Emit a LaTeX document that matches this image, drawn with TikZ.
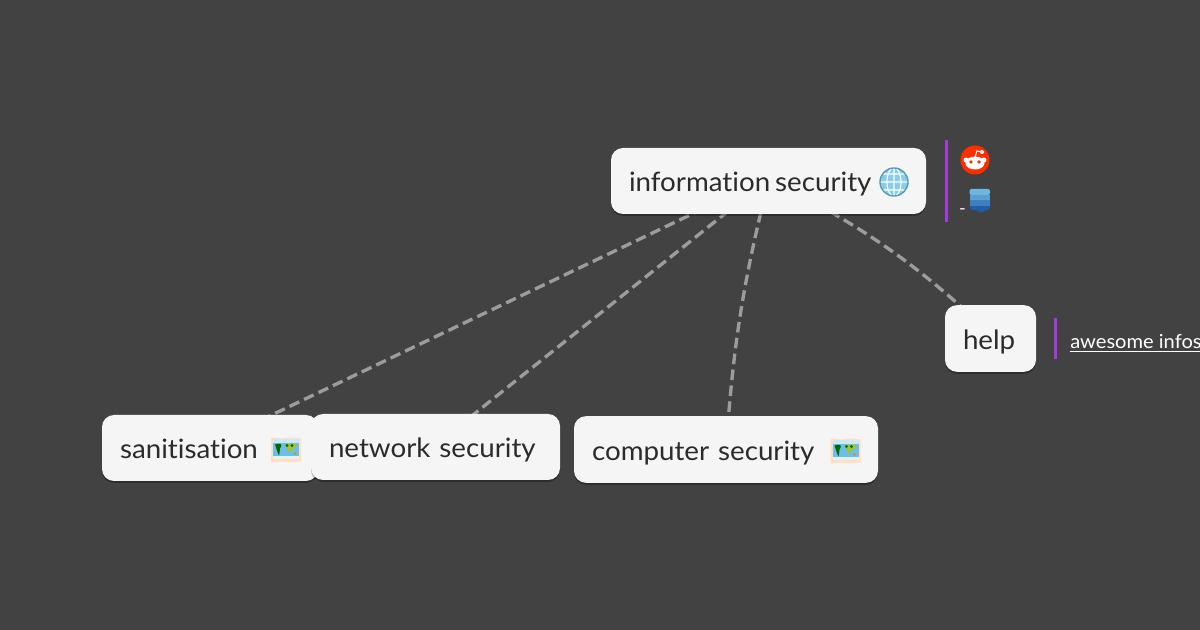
\documentclass[tikz,border=0pt]{standalone}
\usepackage{fontspec}
\setmainfont[FakeStretch=1.04,Ligatures=NoCommon]{Lato}
\usetikzlibrary{backgrounds,shadows}
\definecolor{page_grey}{HTML}{424242}
\definecolor{box_white}{HTML}{F5F5F5}
\definecolor{ink_grey}{HTML}{2B2B2B}
\definecolor{link_grey}{HTML}{9C9C9C}
\definecolor{bar_purple}{HTML}{A638E0}
\definecolor{sea_blue}{HTML}{6CBFE6}
\definecolor{stack_band0}{HTML}{6CB8E0}
\definecolor{stack_band1}{HTML}{5A9FD0}
\definecolor{stack_band2}{HTML}{3F7FC0}
\definecolor{stack_band3}{HTML}{1F5FA8}
\tikzset{
  topic_box/.style={fill=box_white, rounded corners=9pt, text=ink_grey, inner xsep=13.5pt, inner ysep=0pt,
    font=\fontsize{20}{24}\selectfont, text height=18pt, text depth=1.5pt,
    drop shadow={shadow xshift=0pt, shadow yshift=-1.5pt, opacity=0.3, fill=black}},
  link_line/.style={link_grey, line width=2.5pt, dash pattern=on 8pt off 4pt},
  side_bar/.style={bar_purple, line width=2.6pt}
}
% small world map icon, centred on the given point
\newcommand{\drawmapicon}[1]{
  \begin{scope}[shift={(#1)}]
    \fill[white!75!orange] (-15,-12) -- (-5,-11) -- (5,-12) -- (15,-11) -- (15,12) -- (5,13) -- (-5,12) -- (-15,13) -- cycle;
    \fill[sea_blue] (-13,-10) rectangle (13,10);
    \fill[white!65!sea_blue] (-13,-10) rectangle (13,-6);
    \fill[white!80!sea_blue] (-13,7) rectangle (13,10);
    \fill[green!40!black] (-11,-5) .. controls (-5,-7) and (-3,-5) .. (-6,-1) .. controls (-7,2) and (-6,5) .. (-7,6) .. controls (-9,3) and (-9,0) .. (-11,-5);
    \fill[yellow!70!green!85!black] (-1,-5) .. controls (4,-7) and (11,-6) .. (11,-4) .. controls (9,-1) and (6,-1) .. (4,3) .. controls (2,2) and (1,-2) .. (-1,-5);
    \fill[green!45!black] (1,-4) circle (1.6) (6,-4) circle (1.6);
    \fill[orange!80!brown] (9,4) circle (1.4);
  \end{scope}
}
\begin{document}
\begin{tikzpicture}[x=0.75pt, y=-0.75pt]
  \useasboundingbox (0,0) rectangle (1200,630);
  % draw topic boxes
  \node[topic_box, text width=209.25pt, minimum height=49.5pt] (info_security) at (768.5,181) {information\hspace{-3pt} security};
  \node[topic_box, text width=135pt, minimum height=49.5pt] (sanitisation) at (210,448) {sanitisation};
  \node[topic_box, text width=159.75pt, minimum height=49.5pt] (network_security) at (435.5,447) {network security};
  \node[topic_box, text width=201pt, minimum height=50pt] (computer_security) at (726,449.5) {computer security};
  \node[topic_box, text width=41.25pt, minimum height=50pt] (help) at (990.5,338.5) {help};
  % draw dashed links behind the boxes
  \begin{scope}[on background layer]
    \fill[page_grey] (0,0) rectangle (1200,630);
    \draw[link_line] ([xshift=-5.5pt]info_security.center) -- ([xshift=-5.5pt]sanitisation.center);
    \draw[link_line] ([xshift=-2pt]info_security.center) -- ([xshift=-2pt]network_security.center);
    \draw[link_line] (info_security.center) to[bend right=5] (computer_security.center);
    \draw[link_line] ([xshift=4pt]info_security.center) to[bend left=8] ([xshift=4pt]help.center);
  \end{scope}
  % draw purple bars for side notes
  \coordinate (info_bar_top) at (946.5,140);
  \coordinate (info_bar_bottom) at (946.5,222);
  \draw[side_bar] (info_bar_top) -- (info_bar_bottom);
  \coordinate (help_bar_top) at (1055.5,318);
  \coordinate (help_bar_bottom) at (1055.5,359);
  \draw[side_bar] (help_bar_top) -- (help_bar_bottom);
  \node[anchor=base west, inner sep=0pt, text=white, font=\fontsize{14.5}{17}\selectfont] (help_note) at (1070,349) {\underline{awesome infos}};
  % globe icon
  \fill[sea_blue!80!white] (894,182) circle (14.5);
  \draw[white, line width=0.9pt] (879.5,182) -- (908.5,182) (882,174) -- (906,174) (882,190) -- (906,190) (894,167.5) -- (894,196.5) (894,182) ellipse (7 and 14.5);
  \draw[sea_blue!80!black, line width=1pt] (894,182) circle (14);
  % world maps
  \drawmapicon{286,449.5}
  \drawmapicon{845.5,450.5}
  % reddit icon
  \fill[orange!35!red] (975,160) circle (14.5);
  \fill[white] (975,163) ellipse (9.5 and 6.5) (966,160) circle (2.5) (984,160) circle (2.5) (982,152) circle (2);
  \draw[white, line width=0.8pt] (975,157) -- (977,151) -- (982,152);
  \fill[orange!35!red] (971,162) circle (1.8) (979,162) circle (1.8);
  % stack icon and dash
  \node[inner sep=0pt, text=white, font=\fontsize{13}{15}\selectfont] (stack_dash) at (962.5,212) {-};
  \fill[stack_band3] (969.5,206) -- (990,206) [rounded corners=2pt] -- (990,210) -- (984,210) -- (982,214) -- (978,210) -- (969.5,210) -- cycle;
  \fill[stack_band0] (969.5,195) [rounded corners=1.5pt] -- (969.5,189) -- (990,189) -- (990,195) -- cycle;
  \fill[stack_band1] (969.5,195) rectangle (990,200);
  \fill[stack_band2] (969.5,200) rectangle (990,206);
\end{tikzpicture}
\end{document}
